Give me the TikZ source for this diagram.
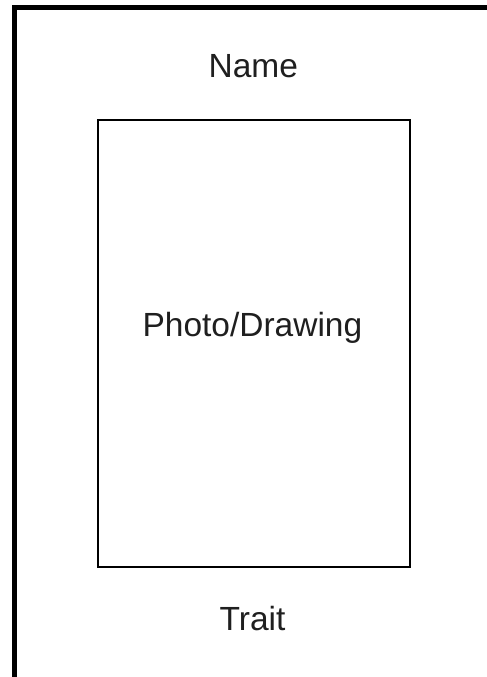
\documentclass[tikz,border=0pt]{standalone}
\usepackage{fontspec}
\setmainfont{Liberation Sans}
\begin{document}
\begin{tikzpicture}[x=1pt,y=-1pt,
  lbl/.style={anchor=base,inner sep=0pt,font=\fontsize{33.5}{40}\selectfont,text=black!88},
  frame/.style={line width=5.2pt,draw=black},
  photobox/.style={line width=2pt,draw=black}]
\useasboundingbox (0,0) rectangle (487,677);
\draw[frame] (14.4,680) -- (14.4,7.6) -- (490,7.6);
\draw[photobox] (98,120) rectangle (410,567);
\node[lbl] (name) at (253.3,77.3) {Name};
\node[lbl] (photo) at (252.4,336) {Photo/Drawing};
\node[lbl] (trait) at (252.5,630.7) {Trait};
\end{tikzpicture}
\end{document}
